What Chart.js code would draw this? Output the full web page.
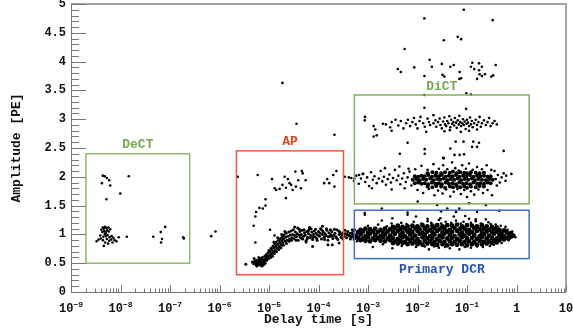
<!DOCTYPE html>
<html>
<head>
<meta charset="utf-8">
<script src="https://cdn.jsdelivr.net/npm/chart.js@4"></script>
<style>
  body { margin: 0; background: #fff; }
  #wrap { width: 573px; height: 333px; }
</style>
</head>
<body>
<div id="wrap"><canvas id="chart"></canvas></div>
<script>
// axis ticks
const xTickValues = [1e-9, 1e-8, 1e-7, 1e-6, 1e-5, 1e-4, 1e-3, 1e-2, 1e-1, 1, 10];
const xTickLabels = [['10', '−9'], ['10', '−8'], ['10', '−7'], ['10', '−6'], ['10', '−5'], ['10', '−4'],
                     ['10', '−3'], ['10', '−2'], ['10', '−1'], ['1', ''], ['10', '']];
const yTickValues = [0, 0.5, 1, 1.5, 2, 2.5, 3, 3.5, 4, 4.5, 5];
const yTickLabels = ['0', '0.5', '1', '1.5', '2', '2.5', '3', '3.5', '4', '4.5', '5'];

// [delay time (s), amplitude (PE)]
const dectPts = [[4.1e-9,1.08],[4.4e-9,1.12],[4.6e-9,1.10],[4.9e-9,1.13],[5.2e-9,1.11],[4.3e-9,1.04],[4.7e-9,1.06],
  [5.0e-9,1.02],[5.4e-9,1.07],[5.8e-9,1.05],[6.2e-9,1.09],[3.9e-9,0.98],[4.5e-9,0.96],[4.8e-9,1.00],[5.1e-9,0.97],
  [5.5e-9,0.99],[6.0e-9,0.95],[6.6e-9,0.97],[7.2e-9,0.94],[3.6e-9,0.91],[4.0e-9,0.93],[4.4e-9,0.90],[5.3e-9,0.92],
  [5.9e-9,0.89],[6.5e-9,0.91],[7.6e-9,0.90],[8.3e-9,0.88],[9.2e-9,0.95],[3.3e-9,0.88],[4.9e-9,0.86],[5.6e-9,0.84],
  [6.9e-9,0.86],[4.6e-9,0.80],[5.0e-9,1.04],[5.7e-9,1.12],
  [4.4e-9,2.02],[4.8e-9,2.01],[5.3e-9,1.98],[5.9e-9,1.94],[4.2e-9,1.89],[6.2e-9,1.85],[1.47e-8,2.01],[9.9e-9,1.71],[5.2e-9,1.61],
  [1.34e-8,0.96],[4.6e-8,0.96],[8.0e-8,1.13],[6.5e-8,1.04],[6.9e-8,0.92],[6.6e-8,0.86],[1.9e-7,0.93],[1.85e-7,0.95]];

const apBand = [[3.4e-6,0.48],[4.6e-6,0.52],[4.9e-6,0.49],[5.1e-6,0.53],[5.3e-6,0.5],[5.5e-6,0.47],[5.6e-6,0.55],
  [5.8e-6,0.51],[6.0e-6,0.48],[6.1e-6,0.54],[6.3e-6,0.5],[6.5e-6,0.57],[6.6e-6,0.47],[6.8e-6,0.52],[7.0e-6,0.49],
  [7.1e-6,0.55],[7.3e-6,0.6],[7.5e-6,0.51],[7.7e-6,0.47],[7.8e-6,0.56],[8.0e-6,0.53],[8.2e-6,0.62],[8.4e-6,0.5],
  [8.6e-6,0.58],[8.8e-6,0.65],[9.0e-6,0.55],[5.0e-6,0.58],[6.2e-6,0.6],
  [5.7e-6,0.45],[6.4e-6,0.53],[7.2e-6,0.45],[7.9e-6,0.5],[8.3e-6,0.56],[9.1e-6,0.6],[6.9e-6,0.58],[5.4e-6,0.52],
  [9.3e-6,0.62],[9.6e-6,0.68],[9.8e-6,0.58],[1.0e-5,0.72],[1.03e-5,0.64],[1.06e-5,0.7],[1.1e-5,0.76],[1.12e-5,0.66],
  [1.15e-5,0.73],[1.2e-5,0.8],[1.22e-5,0.69],[1.26e-5,0.77],[1.3e-5,0.84],[1.33e-5,0.72],[1.37e-5,0.8],[1.4e-5,0.87],
  [1.45e-5,0.76],[1.5e-5,0.83],[1.55e-5,0.9],[1.6e-5,0.79],[1.65e-5,0.86],[1.7e-5,0.93],[1.76e-5,0.82],[1.8e-5,0.89],
  [1.86e-5,0.96],[1.9e-5,0.85],[1.96e-5,0.92],[2.0e-5,0.99],[2.1e-5,0.88],[2.15e-5,0.95],[2.2e-5,1.02],[2.3e-5,0.9],
  [2.4e-5,0.97],[2.5e-5,1.04],[2.6e-5,0.92],[2.7e-5,0.99],[2.8e-5,1.06],[2.9e-5,0.94],[3.0e-5,1.0],
  [1.08e-5,0.6],[1.18e-5,0.62],[1.28e-5,0.67],[1.42e-5,0.7],[1.58e-5,0.74],[1.74e-5,0.77],[1.95e-5,0.81],
  [2.25e-5,0.84],[2.55e-5,0.88],[2.85e-5,0.9],[1.25e-5,0.87],[1.5e-5,0.94],[1.8e-5,1.0],[2.1e-5,1.05],
  [3.1e-5,1.08],[3.2e-5,0.93],[3.3e-5,0.98],[3.4e-5,1.04],[3.6e-5,0.96],[3.7e-5,1.01],[3.8e-5,1.11],[3.9e-5,0.9],
  [4.0e-5,0.99],[4.2e-5,1.05],[4.3e-5,0.95],[4.5e-5,1.0],[4.7e-5,1.07],[4.8e-5,0.92],[5.0e-5,0.97],[5.2e-5,1.03],
  [5.4e-5,0.99],[5.6e-5,0.89],[5.8e-5,1.05],[6.0e-5,0.95],[6.3e-5,1.01],[6.5e-5,1.09],[6.8e-5,0.94],[7.0e-5,0.98],
  [7.3e-5,1.04],[7.6e-5,0.91],[7.9e-5,1.0],[8.2e-5,1.06],[8.5e-5,0.96],[8.9e-5,1.02],[9.2e-5,0.93],[9.6e-5,0.99],
  [1.0e-4,1.05],[1.05e-4,0.97],[1.1e-4,1.1],[1.15e-4,0.92],[1.2e-4,1.0],[1.25e-4,1.04],[1.3e-4,0.95],[1.36e-4,1.01],
  [1.42e-4,0.98],[1.48e-4,1.07],[1.55e-4,0.9],[1.62e-4,1.03],[1.7e-4,0.97],[1.78e-4,1.0],[1.86e-4,1.05],[1.95e-4,0.93],
  [2.05e-4,0.99],[2.15e-4,1.02],[2.25e-4,0.96],[2.35e-4,1.08],[2.45e-4,0.91],[2.6e-4,1.0],[2.7e-4,1.04],[2.85e-4,0.95],
  [3.0e-4,0.99],[3.15e-4,1.03],[3.3e-4,0.97],[3.5e-4,1.01],[3.7e-4,0.94],[3.9e-4,1.05],[4.1e-4,0.98],[4.35e-4,1.02],
  [4.6e-4,0.96],[4.9e-4,1.0],[5.2e-4,1.06],[5.5e-4,0.93],
  [3.5e-5,0.9],[4.1e-5,1.09],[4.6e-5,0.93],[5.1e-5,1.08],[5.9e-5,0.92],[6.2e-5,1.06],[7.1e-5,1.1],[7.8e-5,0.95],
  [8.7e-5,1.09],[9.4e-5,0.9],[1.08e-4,1.02],[1.18e-4,1.07],[1.33e-4,0.91],[1.45e-4,1.1],[1.58e-4,0.96],[1.74e-4,1.08],
  [1.9e-4,0.97],[2.1e-4,1.09],[2.3e-4,0.94],[2.55e-4,1.06],[2.8e-4,1.01],[3.1e-4,0.92],[3.4e-4,1.07],[3.8e-4,1.0],
  [4.4e-4,0.92],[4.8e-4,1.08],
  [1.55e-4,0.82],[1.9e-4,0.82],[7.6e-5,0.79],[5.6e-5,0.87],[2.6e-4,0.85],[3.3e-5,1.13],[1.2e-4,1.14],[6.6e-5,1.12]];

const apUpper = [[2.34e-6,2.0],[5.9e-6,2.03],[1.15e-5,1.96],[2.07e-5,2.0],[2.4e-5,1.96],[3.4e-5,2.09],[4.6e-5,2.1],
  [4.8e-5,2.06],[5.5e-5,1.94],[3.9e-5,1.94],[1.87e-5,1.86],[1.64e-5,1.79],[1.4e-5,1.77],[1.3e-5,1.8],[2.2e-5,1.81],
  [2.8e-5,1.86],[3.0e-5,1.77],[3.5e-5,1.83],[4.4e-5,1.8],[2.2e-5,1.63],[2.6e-5,1.89],[1.5e-4,1.96],[1.65e-4,1.89],
  [2.1e-4,1.83],[2.3e-4,2.1],[1.98e-4,2.03],[1.3e-4,1.89],[8.5e-6,1.61],[8.5e-6,1.5],[7.5e-6,1.45],[6.4e-6,1.46],
  [5.3e-6,1.31],[5.5e-6,1.39],[4.9e-6,1.15],[5.3e-6,0.86],[1.05e-5,1.08],[1.3e-5,0.98]];

const dcrCore = [
  [5.6e-4,0.98],[7.1e-4,1.0],[8.9e-4,0.97],[1.1e-3,1.01],[1.4e-3,0.99],[1.8e-3,0.97],[2.2e-3,1.0],[2.8e-3,0.98],
  [3.5e-3,1.01],[4.5e-3,0.99],[5.6e-3,0.97],[7.1e-3,1.0],[8.9e-3,0.98],[0.011,1.01],[0.014,0.99],[0.018,0.97],
  [0.022,1.0],[0.028,0.98],[0.035,1.01],[0.045,0.99],[0.056,0.97],[0.071,1.0],[0.089,0.98],[0.11,1.01],[0.14,0.99],
  [0.18,0.97],[0.22,1.0],[0.28,0.98],[0.35,1.01],[0.45,0.99],[0.56,0.97],[0.71,1.0],[0.85,0.98],
  [6.3e-4,1.04],[7.9e-4,1.05],[1.0e-3,1.03],[1.26e-3,1.05],[1.58e-3,1.04],[2.0e-3,1.03],[2.5e-3,1.05],[3.2e-3,1.04],
  [4.0e-3,1.06],[5.0e-3,1.03],[6.3e-3,1.05],[7.9e-3,1.04],[0.01,1.06],[0.0126,1.03],[0.0158,1.05],[0.02,1.04],
  [0.025,1.06],[0.032,1.03],[0.04,1.05],[0.05,1.04],[0.063,1.06],[0.079,1.03],[0.1,1.05],[0.126,1.04],[0.158,1.06],
  [0.2,1.03],[0.25,1.05],[0.32,1.04],[0.4,1.05],[0.5,1.03],[0.63,1.04],[0.77,1.02],
  [6.3e-4,0.94],[7.9e-4,0.93],[1.0e-3,0.95],[1.26e-3,0.93],[1.58e-3,0.94],[2.0e-3,0.95],[2.5e-3,0.93],[3.2e-3,0.94],
  [4.0e-3,0.92],[5.0e-3,0.95],[6.3e-3,0.93],[7.9e-3,0.94],[0.01,0.92],[0.0126,0.95],[0.0158,0.93],[0.02,0.94],
  [0.025,0.92],[0.032,0.95],[0.04,0.93],[0.05,0.94],[0.063,0.92],[0.079,0.95],[0.1,0.93],[0.126,0.94],[0.158,0.92],
  [0.2,0.95],[0.25,0.93],[0.32,0.94],[0.4,0.93],[0.5,0.95],[0.63,0.94],[0.77,0.96],
  [7.1e-4,1.08],[8.9e-4,1.1],[1.1e-3,1.09],[1.4e-3,1.1],[1.8e-3,1.08],[2.2e-3,1.1],[2.8e-3,1.09],[3.5e-3,1.11],
  [4.5e-3,1.09],[5.6e-3,1.1],[7.1e-3,1.08],[8.9e-3,1.11],[0.011,1.09],[0.014,1.1],[0.018,1.08],[0.022,1.11],
  [0.028,1.09],[0.035,1.1],[0.045,1.08],[0.056,1.11],[0.071,1.09],[0.089,1.1],[0.11,1.08],[0.14,1.11],[0.18,1.09],
  [0.22,1.1],[0.28,1.08],[0.35,1.1],[0.45,1.08],[0.56,1.07],
  [7.1e-4,0.9],[8.9e-4,0.89],[1.1e-3,0.88],[1.4e-3,0.9],[1.8e-3,0.89],[2.2e-3,0.88],[2.8e-3,0.9],[3.5e-3,0.88],
  [4.5e-3,0.89],[5.6e-3,0.87],[7.1e-3,0.89],[8.9e-3,0.88],[0.011,0.87],[0.014,0.89],[0.018,0.88],[0.022,0.87],
  [0.028,0.89],[0.035,0.87],[0.045,0.88],[0.056,0.87],[0.071,0.89],[0.089,0.87],[0.11,0.88],[0.14,0.87],[0.18,0.89],
  [0.22,0.87],[0.28,0.88],[0.35,0.89],[0.45,0.9],[0.56,0.91],
  [3.2e-3,1.13],[4.0e-3,1.15],[5.0e-3,1.13],[6.3e-3,1.14],[7.9e-3,1.15],[0.01,1.14],[0.0126,1.16],[0.0158,1.14],
  [0.02,1.15],[0.025,1.16],[0.032,1.14],[0.04,1.16],[0.05,1.15],[0.063,1.17],[0.079,1.14],[0.1,1.16],[0.126,1.15],
  [0.158,1.14],[0.2,1.16],[0.25,1.14],[0.32,1.13],[0.4,1.12],
  [3.2e-3,0.85],[4.0e-3,0.84],[5.0e-3,0.85],[6.3e-3,0.83],[7.9e-3,0.84],[0.01,0.83],[0.0126,0.82],[0.0158,0.84],
  [0.02,0.83],[0.025,0.82],[0.032,0.83],[0.04,0.81],[0.05,0.83],[0.063,0.82],[0.079,0.83],[0.1,0.81],[0.126,0.83],
  [0.158,0.82],[0.2,0.83],[0.25,0.84],[0.32,0.85],[0.4,0.86]];

const dcrSpread = [[1.0e-3,1.15],[1.6e-3,1.17],[2.4e-3,1.14],[3.0e-3,1.19],[4.7e-3,1.2],[6.0e-3,1.18],[8.4e-3,1.22],
  [0.012,1.19],[0.016,1.23],[0.019,1.2],[0.027,1.25],[0.03,1.19],[0.037,1.22],[0.048,1.2],[0.06,1.24],[0.075,1.19],
  [0.085,1.22],[0.12,1.2],[0.15,1.23],[0.19,1.19],[0.27,1.21],[0.3,1.18],[0.38,1.17],[0.48,1.15],[0.6,1.13],
  [8.6e-4,1.34],[1.9e-3,1.24],[3.1e-3,1.28],[6.3e-3,1.34],[9.3e-3,1.31],[0.016,1.27],[0.029,1.28],[0.054,1.31],
  [0.092,1.32],[0.11,1.27],[0.15,1.26],[0.24,1.26],[0.45,1.41],[0.0101,1.57],[0.025,1.51],[0.04,1.45],[0.06,1.39],
  [0.07,1.45],[0.11,1.54],[0.24,1.51],[0.16,1.39],[6.3e-3,1.38],[0.03,1.4],[8.6e-4,1.37],[1.9e-3,1.45],
  [1.25e-3,0.78],[2.0e-3,0.83],[3.1e-3,0.76],[4.8e-3,0.8],[9.3e-3,0.78],[0.014,0.79],[0.017,0.74],[0.022,0.79],
  [0.027,0.77],[0.036,0.78],[0.045,0.76],[0.07,0.74],[0.09,0.78],[0.12,0.77],[0.16,0.79],[0.21,0.78],[0.29,0.8],
  [0.35,0.82],[0.5,0.85],[0.69,0.9],[0.9,0.99],[0.82,1.05],[0.95,0.95],[0.66,1.08],[0.72,0.92],
  [4.3e-4,0.97],[4.8e-4,1.03],[5.2e-4,0.91],[5.4e-4,1.08],[6.0e-4,0.88],[5.0e-4,0.95]];

const dictCore = [
  [8e-3,1.95],[9.5e-3,1.96],[0.011,1.94],[0.013,1.96],[0.015,1.95],[0.018,1.97],[0.021,1.94],[0.025,1.96],
  [0.029,1.95],[0.034,1.97],[0.04,1.94],[0.047,1.96],[0.055,1.95],[0.065,1.97],[0.076,1.94],[0.09,1.96],
  [0.105,1.95],[0.125,1.97],[0.145,1.94],[0.17,1.96],[0.2,1.95],[0.24,1.94],[0.28,1.96],[0.33,1.95],
  [8.8e-3,2.01],[0.0103,2.0],[0.012,2.02],[0.014,2.01],[0.0165,2.03],[0.0195,2.0],[0.023,2.02],[0.027,2.01],
  [0.031,2.03],[0.037,2.0],[0.043,2.02],[0.051,2.01],[0.06,2.03],[0.07,2.0],[0.083,2.02],[0.097,2.01],[0.115,2.03],
  [0.135,2.0],[0.16,2.02],[0.185,2.01],[0.22,2.02],[0.26,2.0],[0.3,2.01],
  [8.8e-3,1.89],[0.0103,1.9],[0.012,1.88],[0.014,1.89],[0.0165,1.87],[0.0195,1.9],[0.023,1.88],[0.027,1.89],
  [0.031,1.87],[0.037,1.9],[0.043,1.88],[0.051,1.89],[0.06,1.87],[0.07,1.9],[0.083,1.88],[0.097,1.89],[0.115,1.87],
  [0.135,1.9],[0.16,1.88],[0.185,1.89],[0.22,1.88],[0.26,1.9],[0.3,1.89],
  [0.016,2.06],[0.02,2.08],[0.024,2.07],[0.03,2.06],[0.036,2.08],[0.045,2.07],[0.052,2.09],[0.062,2.06],
  [0.073,2.08],[0.088,2.07],[0.1,2.06],[0.12,2.08],[0.15,2.07],[0.18,2.06],[0.22,2.07],
  [0.016,1.83],[0.02,1.82],[0.024,1.84],[0.03,1.83],[0.036,1.81],[0.045,1.83],[0.052,1.82],[0.062,1.84],
  [0.073,1.82],[0.088,1.83],[0.1,1.81],[0.12,1.83],[0.15,1.82],[0.18,1.84],[0.22,1.83]];

const dictSpread = [[4.6e-4,1.98],[5.2e-4,1.93],[5.8e-4,2.02],[6.5e-4,1.88],[7.2e-4,1.97],[8.0e-4,2.05],[8.8e-4,1.91],
  [9.6e-4,1.99],[1.05e-3,1.84],[1.15e-3,2.08],[1.25e-3,1.95],[1.35e-3,2.01],[1.5e-3,1.89],[1.65e-3,1.97],[1.8e-3,2.1],
  [1.95e-3,1.92],[2.1e-3,2.0],[2.3e-3,1.86],[2.5e-3,1.96],[2.7e-3,2.04],[2.9e-3,1.9],[3.2e-3,1.98],[3.5e-3,2.12],
  [3.8e-3,1.94],[4.1e-3,2.02],[4.5e-3,1.87],[4.9e-3,1.97],[5.3e-3,2.06],[5.8e-3,1.91],[6.3e-3,1.99],[6.9e-3,2.09],
  [7.5e-3,1.85],[1.2e-3,1.8],[2.2e-3,2.15],[3.0e-3,1.78],[4.3e-3,2.18],[5.5e-3,1.8],[6.6e-3,2.14],
  [9e-3,2.13],[0.012,2.19],[0.016,2.12],[0.021,2.22],[0.027,2.14],[0.033,2.2],[0.04,2.13],[0.05,2.25],[0.058,2.15],
  [0.068,2.11],[0.08,2.2],[0.095,2.14],[0.11,2.23],[0.13,2.12],[0.16,2.17],[0.2,2.13],[0.25,2.2],[0.31,2.12],
  [0.01,1.77],[0.013,1.72],[0.017,1.79],[0.022,1.68],[0.026,1.76],[0.032,1.71],[0.038,1.78],[0.046,1.66],
  [0.054,1.74],[0.064,1.79],[0.075,1.7],[0.088,1.77],[0.1,1.65],[0.12,1.75],[0.14,1.69],[0.17,1.78],[0.21,1.72],
  [0.26,1.77],[0.32,1.68],
  [0.38,1.96],[0.42,2.03],[0.46,1.9],[0.5,1.99],[0.55,2.06],[0.6,1.93],[0.4,1.85],[0.36,2.1],[0.62,2.02],[0.79,2.05]];

const dictUpper = [[8.6e-4,2.98],[1.3e-3,2.88],[1.4e-3,2.82],[2.0e-3,2.92],[2.3e-3,2.91],[2.8e-3,2.86],[3.0e-3,2.95],
  [3.6e-3,2.99],[4.1e-3,2.89],[4.6e-3,2.97],[5.2e-3,2.84],[5.9e-3,2.93],[6.4e-3,2.99],[7.1e-3,2.88],[7.9e-3,2.95],
  [8.5e-3,3.02],[9.2e-3,2.91],[1.0e-2,2.84],[1.1e-2,2.97],[1.15e-2,3.04],[1.3e-2,2.93],[1.4e-2,2.87],[1.5e-2,2.78],
  [1.6e-2,3.01],[1.7e-2,2.95],[1.8e-2,2.9],[3.0e-3,2.8],[1.5e-3,2.72],[2.1e-2,3.07],
  [0.021,2.93],[0.023,2.98],[0.024,2.87],[0.026,2.95],[0.028,3.01],[0.029,2.9],[0.031,2.84],[0.033,2.96],[0.035,3.03],
  [0.036,2.91],[0.038,2.88],[0.04,2.97],[0.042,2.93],[0.044,3.05],[0.046,2.86],[0.048,2.99],[0.05,2.92],[0.053,2.95],
  [0.055,2.89],[0.057,3.02],[0.06,2.94],[0.062,2.85],[0.065,2.98],[0.068,2.91],[0.07,3.06],[0.073,2.95],[0.076,2.88],
  [0.08,2.93],[0.083,3.0],[0.086,2.9],[0.09,2.96],[0.094,2.83],[0.098,2.92],[0.1,2.99],[0.105,2.94],[0.11,2.88],
  [0.115,3.03],[0.12,2.91],[0.125,2.97],[0.13,2.86],[0.14,2.93],[0.15,2.99],[0.16,2.9],[0.17,2.95],[0.18,3.04],
  [0.19,2.87],[0.2,2.93],[0.22,2.98],[0.24,2.9],[0.26,2.95],[0.28,3.02],[0.3,2.88],[0.33,2.93],[0.36,2.97],[0.4,2.91],
  [0.045,2.81],[0.11,2.8],[0.075,2.78],[0.16,2.82],[0.035,2.79],
  [0.0138,3.2],[0.096,3.18],[0.55,2.45],[1.3e-3,2.7],[4.4e-3,2.4],[0.014,2.4],[6.3e-3,2.59],[0.014,2.48],[0.056,2.38],
  [0.034,2.32],[0.046,2.49],[0.127,2.52],[0.175,2.59],[0.059,2.61],[0.085,2.61],[0.071,2.38],[0.087,2.39],[0.134,2.61],
  [0.16,2.52],[0.033,2.33]];

const strayPts = [[6.8e-7,0.97],[8.3e-7,1.05],[1.87e-5,3.63],[3.6e-5,2.92],[2.1e-4,2.73],[8.7e-4,3.04],
  [3.4e-4,2.0],[4.1e-4,1.99],[5.3e-4,1.97],[6.6e-4,2.03],[7.8e-4,2.05],
  [0.086,4.9],[0.0138,4.75],[0.33,4.72],[0.065,4.43],[0.076,4.39],[0.034,4.37],[5.5e-3,4.22],[0.0176,4.03],
  [0.031,3.96],[4.0e-3,3.87],[4.6e-3,3.82],[8.6e-3,3.9],[0.0195,3.91],[0.046,3.91],[0.054,3.94],[0.071,3.82],
  [0.128,3.98],[0.12,3.91],[0.175,3.97],[0.2,3.91],[0.14,3.87],[0.175,3.85],[0.18,3.78],[0.2,3.75],[0.23,3.78],
  [0.31,3.74],[0.34,3.76],[0.38,3.94],[0.16,3.7],[0.07,3.7],[0.076,3.71],[0.0138,3.75],[0.035,3.74],[0.032,3.77],
  [0.097,3.45],[0.12,3.43],[0.0138,3.42]];

// selection regions drawn on top of the scatter
const regions = [
  { label: 'DeCT', t0: 2e-9, t1: 2.5e-7, a0: 0.5, a1: 2.4, lt: 2.24e-8, la: 2.55, line: '#8dbb6c', text: '#76a84c' },
  { label: 'AP', t0: 2.2e-6, t1: 3.2e-4, a0: 0.3, a1: 2.45, lt: 2.65e-5, la: 2.61, line: '#ee5a3d', text: '#e5401e' },
  { label: 'DiCT', t0: 5.3e-4, t1: 1.8, a0: 1.53, a1: 3.42, lt: 3.1e-2, la: 3.57, line: '#82b061', text: '#76a84c' },
  { label: 'Primary DCR', t0: 5.3e-4, t1: 1.8, a0: 0.58, a1: 1.42, lt: 3.1e-2, la: 0.38, line: '#3f6fc8', text: '#2452b8' },
];

const MONO = '"Liberation Mono", "DejaVu Sans Mono", monospace';

function cloud(pts, r) {
  return {
    data: pts.map(p => ({ x: p[0], y: p[1] })),
    pointRadius: r,
    pointHoverRadius: r,
    pointBackgroundColor: '#000',
    pointBorderWidth: 0,
  };
}

const rootFrame = {
  id: 'rootFrame',
  afterDatasetsDraw(chart) {
    const { ctx, scales: { x, y } } = chart;
    ctx.save();
    regions.forEach(r => {
      const l = x.getPixelForValue(r.t0), rt = x.getPixelForValue(r.t1);
      const t = y.getPixelForValue(r.a1), b = y.getPixelForValue(r.a0);
      ctx.strokeStyle = r.line;
      ctx.lineWidth = 1.5;
      ctx.strokeRect(l, t, rt - l, b - t);
      ctx.fillStyle = r.text;
      ctx.font = 'bold 13px ' + MONO;
      ctx.textAlign = 'center';
      ctx.textBaseline = 'middle';
      ctx.fillText(r.label, x.getPixelForValue(r.lt), y.getPixelForValue(r.la));
    });
    ctx.restore();
  },
  afterDraw(chart) {
    const { ctx, chartArea: a, scales: { x, y } } = chart;
    ctx.save();
    // frame
    ctx.strokeStyle = '#a3a3a3';
    ctx.lineWidth = 2;
    ctx.beginPath();
    ctx.moveTo(a.left, a.top);
    ctx.lineTo(a.right, a.top);
    ctx.lineTo(a.right, a.bottom);
    ctx.stroke();
    ctx.strokeStyle = '#777';
    ctx.lineWidth = 1;
    ctx.beginPath();
    ctx.moveTo(a.left + 0.5, a.top);
    ctx.lineTo(a.left + 0.5, a.bottom + 0.5);
    ctx.lineTo(a.right, a.bottom + 0.5);
    // y ticks, major every 0.5
    for (let i = 0; i <= 50; i++) {
      const py = Math.round(y.getPixelForValue(i / 10)) + 0.5;
      const len = i % 5 === 0 ? 15 : 8;
      ctx.moveTo(a.left, py);
      ctx.lineTo(a.left + len, py);
    }
    // x ticks, log
    for (let e = -9; e <= 1; e++) {
      for (let m = 1; m <= 9; m++) {
        const v = m * Math.pow(10, e);
        if (v > 10.001) break;
        const px = Math.round(x.getPixelForValue(v)) + 0.5;
        const len = m === 1 ? 7 : 3.5;
        ctx.moveTo(px, a.bottom);
        ctx.lineTo(px, a.bottom - len);
      }
    }
    ctx.stroke();

    // x tick labels with raised exponent
    ctx.fillStyle = '#111';
    ctx.textAlign = 'left';
    ctx.textBaseline = 'alphabetic';
    xTickValues.forEach((v, i) => {
      const [base, exp] = xTickLabels[i];
      ctx.font = 'bold 12px ' + MONO;
      const wb = ctx.measureText(base).width;
      ctx.font = 'bold 8px ' + MONO;
      const we = exp ? ctx.measureText(exp).width : 0;
      const left = x.getPixelForValue(v) - (wb + we) / 2;
      ctx.font = 'bold 12px ' + MONO;
      ctx.fillText(base, left, a.bottom + 20);
      if (exp) {
        ctx.font = 'bold 8px ' + MONO;
        ctx.fillText(exp, left + wb, a.bottom + 14.5);
      }
    });
    ctx.restore();
  }
};

new Chart(document.getElementById('chart'), {
  type: 'scatter',
  data: {
    datasets: [
      cloud(dcrCore, 2.4),
      cloud(dcrSpread, 1.3),
      cloud(dictCore, 2.0),
      cloud(dictSpread, 1.3),
      cloud(dictUpper, 1.3),
      cloud(apBand, 1.5),
      cloud(apUpper, 1.3),
      cloud(dectPts, 1.3),
      cloud(strayPts, 1.3),
    ],
  },
  options: {
    responsive: true,
    maintainAspectRatio: false,
    animation: false,
    events: [],
    layout: { padding: { top: 4, right: 7, left: 0, bottom: 0 } },
    plugins: {
      legend: { display: false },
      tooltip: { enabled: false },
    },
    scales: {
      x: {
        type: 'logarithmic',
        min: 1e-9,
        max: 10,
        grid: { display: false, drawTicks: false },
        border: { display: false },
        ticks: { display: false },
        afterBuildTicks: s => { s.ticks = xTickValues.map(v => ({ value: v })); },
        afterFit: s => { s.height = 41; s.paddingLeft = 0; s.paddingRight = 0; },
        title: {
          display: true,
          text: 'Delay time [s]',
          color: '#111',
          font: { family: MONO, size: 13, weight: 'bold' },
          padding: { top: 0, bottom: 5 },
        },
      },
      y: {
        min: 0,
        max: 5,
        grid: { display: false, drawTicks: false },
        border: { display: false },
        afterBuildTicks: s => { s.ticks = yTickValues.map(v => ({ value: v })); },
        afterFit: s => { s.width = 71; s.paddingTop = 0; s.paddingBottom = 0; },
        ticks: {
          padding: 5,
          color: '#111',
          font: { family: MONO, size: 12, weight: 'bold' },
          callback: (v, i) => yTickLabels[i],
        },
        title: {
          display: true,
          text: 'Amplitude [PE]',
          color: '#111',
          font: { family: MONO, size: 13, weight: 'bold' },
          padding: { top: 9, bottom: 0 },
        },
      },
    },
  },
  plugins: [rootFrame],
});
</script>
</body>
</html>
